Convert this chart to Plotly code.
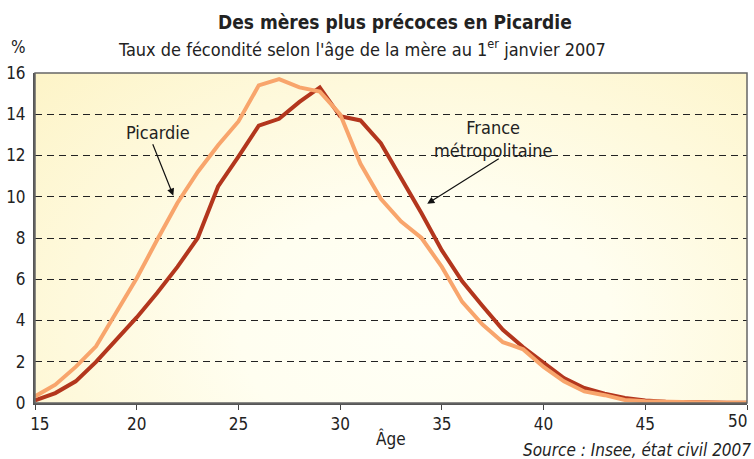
import base64
import plotly.graph_objects as go

ages = list(range(15, 51))
picardie = [0.32, 0.89, 1.75, 2.75, 4.4, 6.05, 7.9, 9.7, 11.2, 12.5, 13.65, 15.4, 15.7, 15.3,
            15.1, 14.0, 11.6, 9.9, 8.8, 8.0, 6.6, 4.9, 3.8, 2.95, 2.6, 1.75, 1.05, 0.56,
            0.38, 0.15, 0.08, 0.05, 0.03, 0.02, 0.01, 0.01]
france = [0.13, 0.48, 1.05, 1.99, 3.07, 4.15, 5.33, 6.6, 8.0, 10.5, 11.95, 13.45, 13.78, 14.6,
          15.3, 13.9, 13.7, 12.6, 10.9, 9.2, 7.4, 5.9, 4.7, 3.55, 2.7, 1.95, 1.21, 0.73,
          0.45, 0.24, 0.12, 0.06, 0.03, 0.02, 0.01, 0.01]
yticks = [0, 2, 4, 6, 8, 10, 12, 14, 16]
xticks = [15, 20, 25, 30, 35, 40, 45, 50]
xticklabels = ["\u00a0\u00a015", "20", "25", "30", "35", "40", "45", ""]
last_xtick_label = "50"

FONT = "DejaVu Sans Condensed, Liberation Sans Narrow, sans-serif"
C_PIC = "#F8A56C"
C_FRA = "#B3361D"

# decorative background radial gradient (SVG image)
svg = ('<svg xmlns="http://www.w3.org/2000/svg" width="700" height="330" viewBox="0 0 700 330" '
       'preserveAspectRatio="none">'
       '<defs><radialGradient id="g" cx="0.55" cy="0.78" r="0.75" '
       'gradientTransform="translate(0.55,0.78) scale(1,1.5) translate(-0.55,-0.78)">'
       '<stop offset="0" stop-color="#FFFFF6"/><stop offset="0.35" stop-color="#FFFEF0"/>'
       '<stop offset="1" stop-color="#FDF4C8"/></radialGradient></defs>'
       '<rect width="700" height="330" fill="url(#g)"/></svg>')
bg_src = "data:image/svg+xml;base64," + base64.b64encode(svg.encode()).decode()

fig = go.Figure()
fig.add_trace(go.Scatter(x=ages, y=france, mode="lines", name="France métropolitaine",
                         line=dict(color=C_FRA, width=4)))
fig.add_trace(go.Scatter(x=ages, y=picardie, mode="lines", name="Picardie",
                         line=dict(color=C_PIC, width=4)))

fig.add_layout_image(source=bg_src, xref="paper", yref="paper", x=0, y=1, sizex=1, sizey=1,
                     xanchor="left", yanchor="top", sizing="stretch", layer="below")

fig.update_layout(
    width=754, height=459, autosize=False,
    margin=dict(l=35, r=7, t=73, b=56, autoexpand=False),
    paper_bgcolor="white", plot_bgcolor="white",
    showlegend=False,
    font=dict(family=FONT, size=17, color="#222"),
    xaxis=dict(range=[15, 50], tickvals=xticks, ticktext=xticklabels, ticks="outside",
               ticklen=5, tickcolor="#444",
               showgrid=False, zeroline=False, showline=True, linecolor="#555", linewidth=2,
               tickfont=dict(size=17, color="#222"), ticklabeloverflow="allow",
               automargin=False),
    yaxis=dict(range=[0, 16], tickvals=yticks, ticks="", showgrid=True, gridcolor="#222",
               gridwidth=1.3, griddash="7px,5px", zeroline=False, showline=True,
               linecolor="#555", linewidth=2, tickfont=dict(size=17, color="#222"),
               ticklabelstandoff=4, automargin=False),
)
fig.add_shape(type="rect", xref="paper", yref="paper", x0=0, x1=1, y0=0, y1=1,
              line=dict(color="#666", width=1.5), layer="above")

# last x tick label, kept inside the figure edge
fig.add_annotation(x=xticks[-1], xref="x", y=0, yref="paper", xanchor="right", xshift=2,
                   yanchor="top", yshift=-6, showarrow=False, text=last_xtick_label,
                   font=dict(size=17, color="#222"))

fig.add_annotation(xref="paper", yref="paper", x=0.505, y=1, yshift=64, xanchor="center",
                   yanchor="top", showarrow=False,
                   text="<b>Des mères plus précoces en Picardie</b>", font=dict(size=19))
fig.add_annotation(xref="paper", yref="paper", x=0.459, y=1, yshift=39, xanchor="center",
                   yanchor="top", showarrow=False,
                   text="Taux de fécondité selon l'âge de la mère au 1<sup>er</sup> janvier 2007",
                   font=dict(size=18))
fig.add_annotation(xref="paper", yref="paper", x=0, xshift=-26, y=1, yshift=38, xanchor="left",
                   yanchor="top", showarrow=False, text="%", font=dict(size=17))
fig.add_annotation(xref="paper", yref="paper", x=0.5, xshift=0, y=0, yshift=-23,
                   xanchor="center", yanchor="top", showarrow=False, text="Âge",
                   font=dict(size=17))
fig.add_annotation(xref="paper", yref="paper", x=1, xshift=6, y=0, yshift=-35,
                   xanchor="right", yanchor="top", showarrow=False,
                   text="<i>Source : Insee, état civil 2007</i>", font=dict(size=17))

# labels + arrows
fig.add_annotation(x=21.06, y=13.1, text="Picardie", showarrow=False, font=dict(size=18))
fig.add_annotation(x=21.8, y=10.05, ax=20.76, ay=12.62, axref="x", ayref="y", text="",
                   showarrow=True, arrowhead=2, arrowsize=1.2, arrowwidth=1.2, arrowcolor="#111")
fig.add_annotation(x=37.5, y=12.82, text="France<br>métropolitaine", showarrow=False,
                   font=dict(size=18))
fig.add_annotation(x=34.28, y=9.66, ax=37.87, ay=11.89, axref="x", ayref="y", text="",
                   showarrow=True, arrowhead=2, arrowsize=1.2, arrowwidth=1.2, arrowcolor="#111")

fig.write_html("out.html", config={"displayModeBar": False},
               post_script="document.body.style.margin='0';")
